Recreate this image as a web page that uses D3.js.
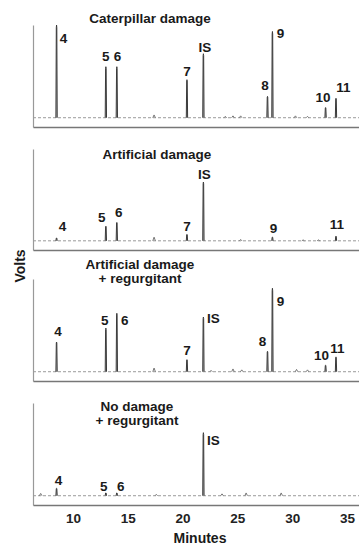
<!DOCTYPE html>
<html>
<head>
<meta charset="utf-8">
<script src="https://cdn.jsdelivr.net/npm/d3@7"></script>
<style>
  body { margin: 0; background: #fff; }
  svg { display: block; }
  text { font-family: "Liberation Sans", Arial, sans-serif; font-weight: 700; fill: #1a1a1a; }
  .axis-left .domain { stroke: #999; stroke-width: 1.2; }
  .axis-bottom .domain { stroke: #777; stroke-width: 1.6; }
  .axis-bottom .tick text { font-size: 13.5px; fill: #222; }
  .baseline { stroke: #9a9a9a; stroke-width: 1; stroke-dasharray: 3,2; }
  .peak { fill: #bbb; stroke: #3a3a3a; stroke-width: 1; }
  .minor { fill: none; stroke: #777; stroke-width: 1; }
</style>
</head>
<body>
<div id="chart"></div>
<script>
// peaks, retention time in minutes
var peakNames = ['4', '5', '6', '7', 'IS', '8', '9', '10', '11'];
var peakTimes = [8.5, 13.0, 14.0, 20.4, 21.9, 27.75, 28.2, 33.05, 34.0];

// peak heights (arbitrary volts, 100 = top of panel)
var caterpillar = [100, 55, 55, 41, 69, 23, 93, 11, 21];
var artificial = [3, 16, 20, 7, 64, 0, 4, 0, 5];
var artificialRegurg = [32, 47, 63, 13, 59, 22, 90, 7, 16];
var noDamageRegurg = [8, 3, 3, 0, 68, 0, 0, 0, 0];

// which peaks get a number
var labels1 = ['4', '5', '6', '7', 'IS', '8', '9', '10', '11'];
var labels2 = ['4', '5', '6', '7', 'IS', '9', '11'];
var labels3 = ['4', '5', '6', '7', 'IS', '8', '9', '10', '11'];
var labels4 = ['4', '5', '6', 'IS'];

// small unlabelled peaks
var minorTimes1 = [17.4, 23.9, 24.6, 25.3, 30.3, 31.4];
var minorHeights1 = [3, 1.5, 2, 2, 2, 1.5];
var minorTimes2 = [17.4, 25.3, 31.0, 32.4];
var minorHeights2 = [4, 1.5, 1, 1];
var minorTimes3 = [17.4, 22.6, 24.6, 25.4, 30.4, 31.4];
var minorHeights3 = [4, 1.5, 3, 2, 2.5, 2];
var minorTimes4 = [7.05, 17.6, 23.6, 25.8, 29.0];
var minorHeights4 = [2.5, 1.5, 2, 3, 3];

var titles = [
  ['Caterpillar damage'],
  ['Artificial damage'],
  ['Artificial damage', '+ regurgitant'],
  ['No damage', '+ regurgitant']
];

var xTicks = [10, 15, 20, 25, 30, 35];

var series = [
  { heights: caterpillar, labels: labels1, minorT: minorTimes1, minorH: minorHeights1 },
  { heights: artificial, labels: labels2, minorT: minorTimes2, minorH: minorHeights2 },
  { heights: artificialRegurg, labels: labels3, minorT: minorTimes3, minorH: minorHeights3 },
  { heights: noDamageRegurg, labels: labels4, minorT: minorTimes4, minorH: minorHeights4 }
];

// layout
var width = 359, height = 545;
var frames = [
  { top: 25, bottom: 127, titleX: 150, titleY: 22.5 },
  { top: 149, bottom: 250, titleX: 157, titleY: 159 },
  { top: 279, bottom: 381, titleX: 140, titleY: 269 },
  { top: 403, bottom: 505, titleX: 137, titleY: 411 }
];
// label offsets from the peak top [dx, dy]
var nudges = [
  { '4': [7, 18], '5': [0, -6], '6': [0.6, -6], '7': [0, -4], 'IS': [1.5, -1.5], '8': [-2.5, -6.5], '9': [8, 6.5], '10': [-2.5, -5.5], '11': [7.5, -6.5] },
  { '4': [6, -7], '5': [-4, -4], '6': [2, -5], '7': [0, -3], 'IS': [1, -3], '9': [1, -4], '11': [1, -7] },
  { '4': [1.5, -6.5], '5': [-1, -3], '6': [8, 12], '7': [0, -5], 'IS': [10, 6], '8': [-5, -5], '9': [8, 18], '10': [-4, -5], '11': [1.5, -4] },
  { '4': [2, -3], '5': [-2, -2], '6': [4, -2], 'IS': [10, 12] }
];
var halfWidth = 0.06; // peak half width in minutes (drawing only)

var svg = d3.select('#chart').append('svg')
  .attr('width', width)
  .attr('height', height);

var x = d3.scaleLinear().domain([6.35, 36.1]).range([33, 359]);

series.forEach(function(s, i) {
  var f = frames[i];
  var y = d3.scaleLinear().domain([-10, 100]).range([f.bottom, f.top]);
  var g = svg.append('g').attr('class', 'panel');

  // baseline
  g.append('line')
    .attr('class', 'baseline')
    .attr('x1', x.range()[0]).attr('x2', x.range()[1])
    .attr('y1', y(0)).attr('y2', y(0));

  var line = d3.line()
    .x(function(d) { return x(d[0]); })
    .y(function(d) { return y(d[1]); });

  // minor peaks
  var minor = s.minorT.map(function(t, j) { return [t, s.minorH[j]]; });
  g.selectAll('path.minor').data(minor).enter().append('path')
    .attr('class', 'minor')
    .attr('d', function(d) { return line([[d[0] - halfWidth * 2, 0], [d[0], d[1]], [d[0] + halfWidth * 2, 0]]); });

  // main peaks
  var peaks = peakTimes.map(function(t, j) { return { name: peakNames[j], t: t, h: s.heights[j] }; })
    .filter(function(d) { return d.h > 0; });
  g.selectAll('path.peak').data(peaks).enter().append('path')
    .attr('class', 'peak')
    .attr('d', function(d) { return line([[d.t - halfWidth, 0], [d.t - halfWidth * 0.4, d.h * 0.97], [d.t, d.h], [d.t + halfWidth * 0.4, d.h * 0.97], [d.t + halfWidth, 0]]); });

  // peak numbers
  var labelled = peaks.filter(function(d) { return s.labels.indexOf(d.name) > -1; });
  g.selectAll('text.peak-label').data(labelled).enter().append('text')
    .attr('class', 'peak-label')
    .attr('text-anchor', 'middle')
    .attr('font-size', 13.5)
    .attr('x', function(d) { return x(d.t) + nudges[i][d.name][0]; })
    .attr('y', function(d) { return y(d.h) + nudges[i][d.name][1]; })
    .text(function(d) { return d.name; });

  // axes
  g.append('g')
    .attr('class', 'axis-left')
    .attr('transform', 'translate(' + x.range()[0] + ',0)')
    .call(d3.axisLeft(y).tickValues([]).tickSizeOuter(0));

  g.append('g')
    .attr('class', 'axis-bottom')
    .attr('transform', 'translate(0,' + f.bottom + ')')
    .call(d3.axisBottom(x).tickValues(i === 3 ? xTicks : []).tickSize(0).tickPadding(8).tickFormat(d3.format('d')))
    .call(function(a) { a.selectAll('.tick text').attr('font-family', null); });

  // title
  var title = g.append('text')
    .attr('text-anchor', 'middle')
    .attr('font-size', 13.5)
    .attr('x', f.titleX)
    .attr('y', f.titleY);
  titles[i].forEach(function(t, k) {
    title.append('tspan')
      .attr('x', f.titleX)
      .attr('dy', k === 0 ? 0 : 14)
      .text(t);
  });
});

svg.append('text')
  .attr('text-anchor', 'middle')
  .attr('font-size', 14)
  .attr('transform', 'translate(25,266) rotate(-90)')
  .text('Volts');

svg.append('text')
  .attr('text-anchor', 'middle')
  .attr('font-size', 14)
  .attr('x', 200)
  .attr('y', 543)
  .text('Minutes');
</script>
</body>
</html>
